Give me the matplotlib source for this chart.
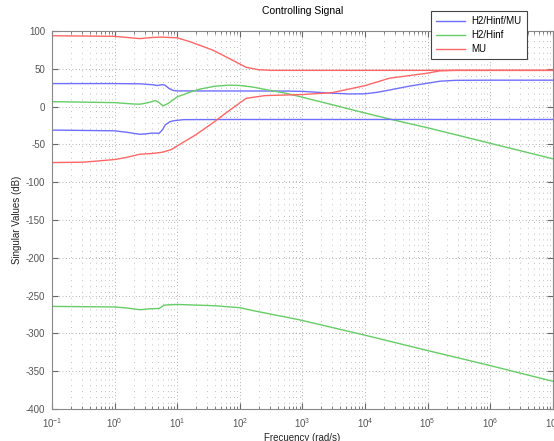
import numpy as np
import matplotlib.pyplot as plt
from matplotlib.ticker import LogLocator, NullFormatter, MultipleLocator

# log10 of frequency (rad/s) and singular values (dB)
lw_mix1 = [-1, 0, 0.4, 0.6, 0.68, 0.76, 0.8, 0.87, 0.93, 1.0, 2.0, 2.73, 3.0, 3.2, 3.48, 3.75,
           4.0, 4.2, 4.39, 4.7, 5.0, 5.2, 5.45, 6.0, 7.0]
sv_mix1 = [30.5, 30.5, 30.2, 29, 28, 29, 28.5, 24, 21.5, 20.8, 20.7, 20.6, 20.2, 19.2, 17.8, 16.8,
           17, 19, 22, 27, 31, 33.7, 34.8, 35, 35]
lw_mix2 = [-1, 0, 0.2, 0.4, 0.5, 0.6, 0.71, 0.76, 0.81, 0.88, 0.95, 1.1, 2.0, 7.0]
sv_mix2 = [-31, -32, -34, -36.6, -36, -35, -35.3, -31, -24, -20, -18.5, -17.2, -17, -17]

lw_h2_1 = [-1, 0, 0.3, 0.4, 0.55, 0.65, 0.7, 0.77, 0.85, 1.0, 1.2, 1.35, 1.6, 1.83, 2.0, 2.2,
           2.45, 2.73, 3.0, 3.5, 4.0, 4.5, 5.0, 6.0, 7.0]
sv_h2_1 = [6.6, 5.3, 3.5, 3.2, 5.5, 8, 6, 1, 4, 13, 19, 23, 27, 28.4, 28, 26,
           22, 17.8, 12.4, 2, -8.5, -18.5, -28, -48.5, -69]
lw_h2_2 = [-1, 0, 0.2, 0.41, 0.55, 0.71, 0.79, 1.0, 1.6, 2.0, 2.25, 2.95, 4.0, 5.0, 6.0, 7.0]
sv_h2_2 = [-264.3, -265, -266.5, -268.7, -267.5, -267, -262.6, -261.7, -263.4, -266, -270.5,
           -282, -302.4, -322.7, -342.6, -363.4]

lw_mu1 = [-1, 0, 0.2, 0.4, 0.6, 0.75, 1.0, 1.2, 1.56, 1.8, 2.1, 2.3, 2.5, 7.0]
sv_mu1 = [93.8, 93, 91.5, 90, 91.5, 92, 91, 86, 75, 65, 52, 48.8, 48, 48]
lw_mu2 = [-1, -0.5, 0, 0.2, 0.4, 0.6, 0.75, 0.9, 1.0, 1.3, 1.56, 1.8, 2.1, 2.4, 3.0, 3.48,
          4.0, 4.39, 5.0, 5.19, 5.45, 7.0]
sv_mu2 = [-74, -73.5, -70, -67, -63, -62, -60.5, -57, -52, -37, -22, -7, 11, 14.6, 16, 18.6,
          27.8, 37.6, 44.3, 47.3, 48, 48]

plt.rcParams['font.family'] = ['Liberation Sans', 'DejaVu Sans']
plt.rcParams['font.size'] = 7
plt.rcParams['axes.unicode_minus'] = False

fig = plt.figure(figsize=(5.54, 4.41), dpi=100)
ax = fig.add_axes([0.094, 0.0726, 0.904, 0.857])

azul = '#6f6fff'
verde = '#66cc66'
vermelho = '#ff6666'

ax.semilogx(10.0 ** np.array(lw_mix1), sv_mix1, color=azul, lw=1, label='H2/Hinf/MU')
ax.semilogx(10.0 ** np.array(lw_h2_1), sv_h2_1, color=verde, lw=1, label='H2/Hinf')
ax.semilogx(10.0 ** np.array(lw_mu1), sv_mu1, color=vermelho, lw=1, label='MU')
ax.semilogx(10.0 ** np.array(lw_mix2), sv_mix2, color=azul, lw=1)
ax.semilogx(10.0 ** np.array(lw_h2_2), sv_h2_2, color=verde, lw=1)
ax.semilogx(10.0 ** np.array(lw_mu2), sv_mu2, color=vermelho, lw=1)

ax.set_xlim(1e-1, 1e7)
ax.set_ylim(-400, 100)
ax.yaxis.set_major_locator(MultipleLocator(50))
ax.xaxis.set_major_locator(LogLocator(base=10, numticks=20))
ax.xaxis.set_minor_locator(LogLocator(base=10, subs=np.arange(2, 10), numticks=20))
ax.xaxis.set_minor_formatter(NullFormatter())

ax.grid(True, which='major', ls=(0, (1, 3)), lw=0.6, color='#999999')
ax.grid(True, which='minor', axis='x', ls=(0, (1, 6)), lw=0.6, color='#aaaaaa')

ax.tick_params(which='both', direction='in', top=True, right=True, colors='#666666',
               labelcolor='#555555', pad=5)
ax.tick_params(which='major', length=4)
ax.tick_params(which='minor', length=2)
for s in ax.spines.values():
    s.set_color('#888888')

ax.set_title('Controlling Signal', fontsize=7.5, pad=12)
ax.set_xlabel('Frecuency (rad/s)', color='#222222', labelpad=2)
ax.set_ylabel('Singular Values (dB)', color='#222222', labelpad=3)

leg = ax.legend(loc='upper right', bbox_to_anchor=(0.948, 1.053), borderaxespad=0,
                fancybox=False, framealpha=1, edgecolor='#444444', handlelength=2.9,
                borderpad=0.55, labelspacing=0.4, handletextpad=0.7, fontsize=7)
leg.get_frame().set_linewidth(0.8)

fig.savefig('out.png', dpi=100)
